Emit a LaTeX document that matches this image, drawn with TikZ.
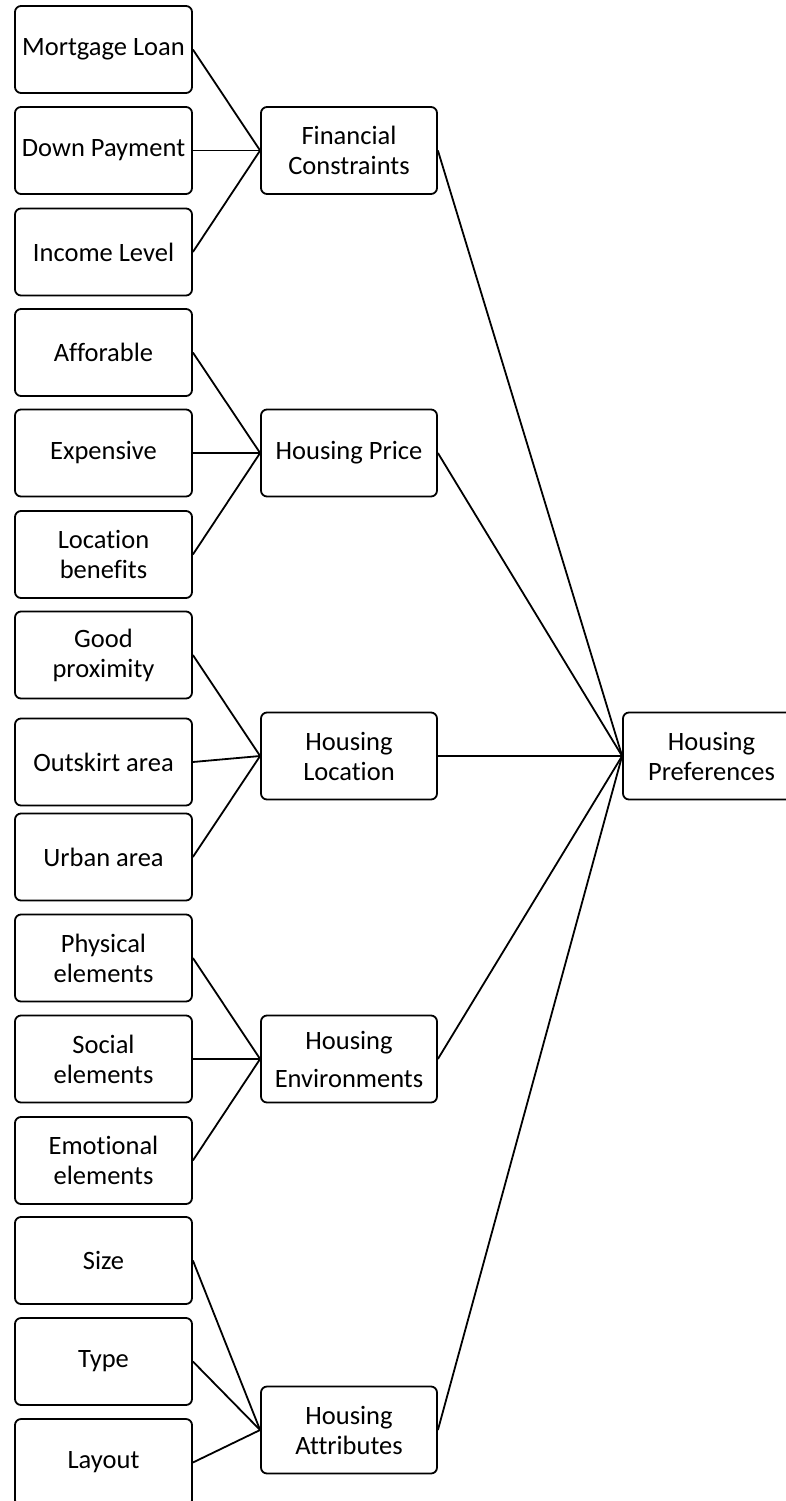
\documentclass[tikz,border=0pt]{standalone}
\usepackage{fontspec}
\setmainfont{Carlito}[Ligatures=NoCommon]
\begin{document}
\begin{tikzpicture}[x=1pt,y=-1pt,
  box/.style={draw=black,line width=1.8pt,rounded corners=6pt,minimum width=177pt,minimum height=87pt,
    align=center,inner sep=0pt,font=\fontsize{26.5}{30}\selectfont},
  link/.style={draw=black,line width=1.8pt}]
\useasboundingbox (0,0) rectangle (785,1501);
% leaves
\node[box] (ml) at (103.5,49.5) {Mortgage Loan};
\node[box] (dp) at (103.5,150.5) {Down Payment};
\node[box] (il) at (103.5,252) {Income Level};
\node[box] (af) at (103.5,352.5) {Afforable};
\node[box] (ex) at (103.5,453) {Expensive};
\node[box] (lb) at (103.5,554.5) {Location\\benefits};
\node[box] (gp) at (103.5,655) {Good\\proximity};
\node[box] (oa) at (103.5,762) {Outskirt area};
\node[box] (ua) at (103.5,857) {Urban area};
\node[box] (pe) at (103.5,958) {Physical\\elements};
\node[box] (se) at (103.5,1059) {Social\\elements};
\node[box] (ee) at (103.5,1160.5) {Emotional\\elements};
\node[box] (sz) at (103.5,1260.5) {Size};
\node[box] (ty) at (103.5,1361.5) {Type};
\node[box] (lo) at (103.5,1462.5) {Layout};
% middle
\node[box,minimum width=176pt] (fc) at (349,150.5) {Financial\\Constraints};
\node[box,minimum width=176pt] (hp) at (349,453) {Housing Price};
\node[box,minimum width=176pt] (hl) at (349,756) {Housing\\Location};
\node[box,minimum width=176pt] (he) at (349,1059) {Housing\\[8pt]Environments};
\node[box,minimum width=176pt] (ha) at (349,1430) {Housing\\Attributes};
% hub
\node[box] (pref) at (711.5,756) {Housing\\Preferences};
% connectors
\foreach \a/\b in {ml/fc,dp/fc,il/fc,af/hp,ex/hp,lb/hp,gp/hl,oa/hl,ua/hl,pe/he,se/he,ee/he,sz/ha,ty/ha,lo/ha}
  \draw[link] (\a.east) -- (\b.west);
\foreach \a in {fc,hp,hl,he,ha}
  \draw[link] (\a.east) -- (pref.west);
\end{tikzpicture}
\end{document}
